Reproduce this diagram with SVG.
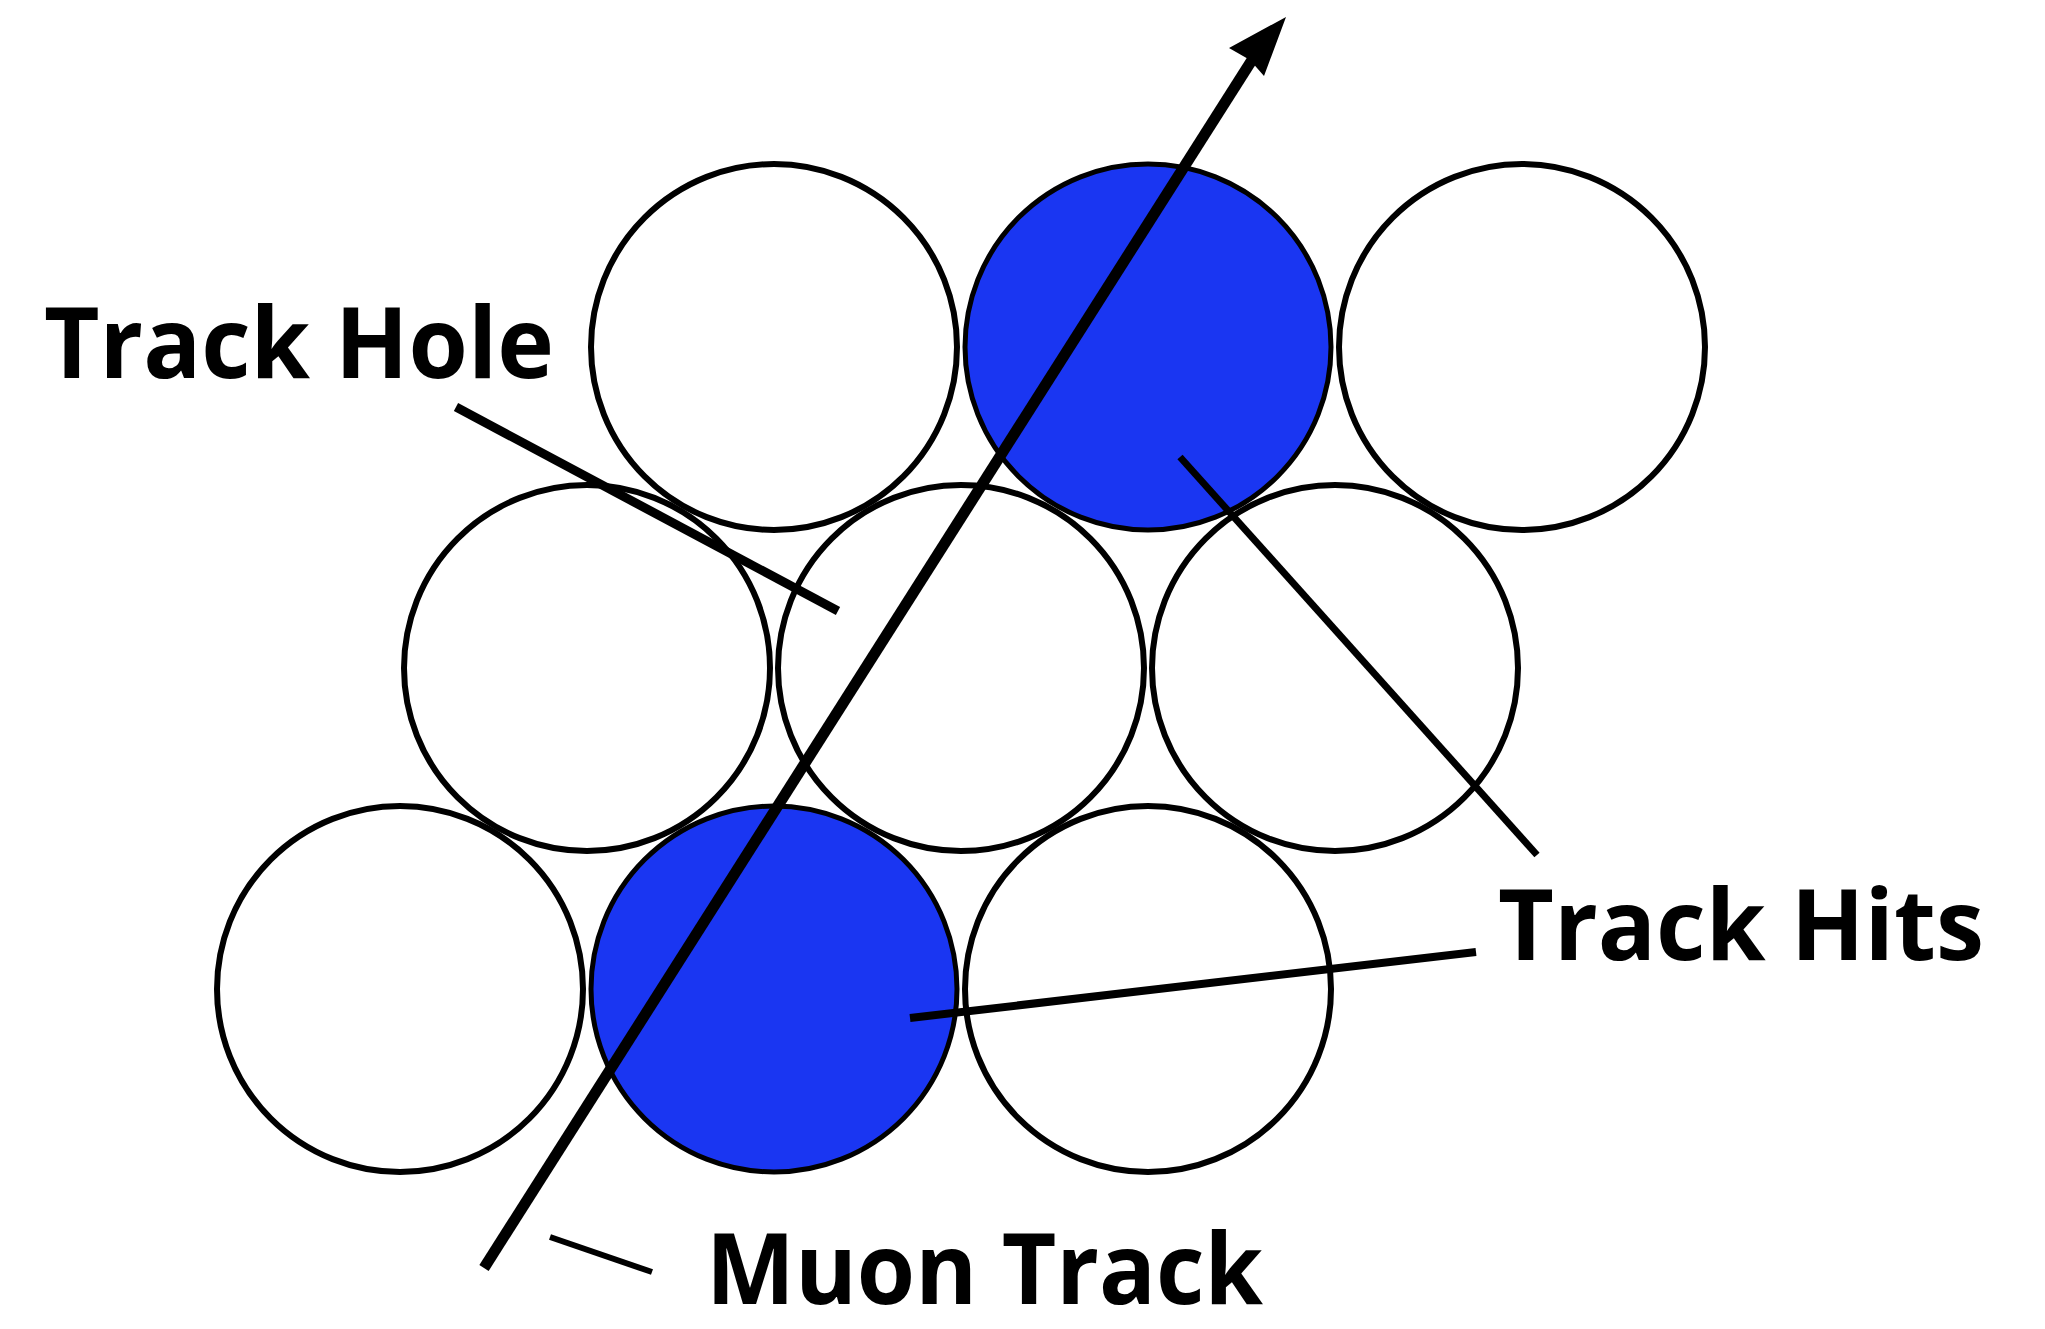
<svg xmlns="http://www.w3.org/2000/svg" width="2045" height="1329" viewBox="0 0 2045 1329">
<style>
.tube{fill:#ffffff;stroke:#000000;stroke-width:6}
.hit{fill:#1a36f2;stroke:#000000;stroke-width:5}
.lbl{font-family:"Open Sans","Liberation Sans",sans-serif;font-weight:bold;font-size:98px;fill:#000000}
.lead{stroke:#000000;fill:none;stroke-linecap:butt}
</style>
<rect x="0" y="0" width="2045" height="1329" fill="#ffffff"/>
<g id="tube-t1"><circle class="tube" cx="774" cy="347" r="183"/></g>
<g id="tube-t2"><circle class="hit" cx="1148" cy="347" r="183"/></g>
<g id="tube-t3"><circle class="tube" cx="1522" cy="347" r="183"/></g>
<g id="tube-m1"><circle class="tube" cx="587" cy="668" r="183"/></g>
<g id="tube-m2"><circle class="tube" cx="961" cy="668" r="183"/></g>
<g id="tube-m3"><circle class="tube" cx="1335" cy="668" r="183"/></g>
<g id="tube-b1"><circle class="tube" cx="400" cy="989" r="183"/></g>
<g id="tube-b2"><circle class="hit" cx="774" cy="989" r="183"/></g>
<g id="tube-b3"><circle class="tube" cx="1148" cy="989" r="183"/></g>
<g id="connectors">
<line class="lead" x1="484" y1="1268" x2="1252" y2="60" stroke-width="11"/>
<polygon points="1286,17 1229,48 1250,60 1264,76" fill="#000000"/>
<line class="lead" x1="456" y1="407" x2="838" y2="611" stroke-width="9"/>
<line class="lead" x1="1180" y1="457" x2="1537" y2="855" stroke-width="7"/>
<line class="lead" x1="910" y1="1018" x2="1476" y2="952" stroke-width="8"/>
<line class="lead" x1="550" y1="1237" x2="652" y2="1272" stroke-width="6"/>
</g>
<g id="label-track-hole"><text class="lbl" x="44" y="378" textLength="510" lengthAdjust="spacingAndGlyphs">Track Hole</text></g>
<g id="label-track-hits"><text class="lbl" x="1498" y="960" textLength="486" lengthAdjust="spacingAndGlyphs">Track Hits</text></g>
<g id="label-muon-track"><text class="lbl" x="706" y="1304" textLength="557" lengthAdjust="spacingAndGlyphs">Muon Track</text></g>
</svg>
